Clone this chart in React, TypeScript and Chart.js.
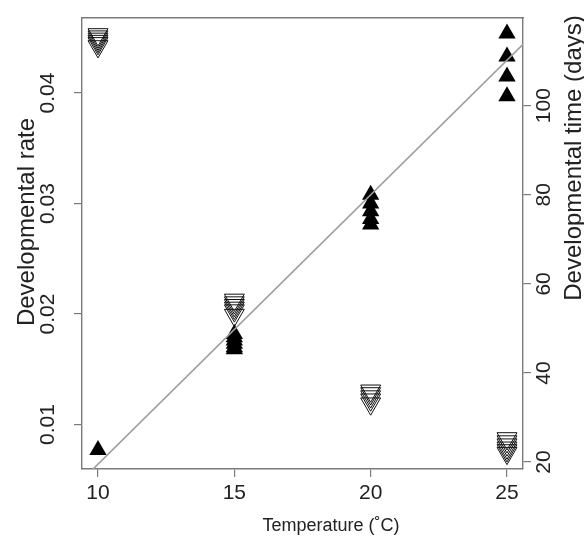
import React, { useEffect, useRef } from "react";
import { Chart, registerables } from "chart.js";

Chart.register(...registerables);

// Developmental rate (filled up-triangles), left axis
const rateTemps = [10, 15, 15, 15, 15, 15, 15, 20, 20, 20, 20, 20, 25, 25, 25, 25];
const rateValues = [
  0.0077,
  0.0182, 0.0179, 0.0176, 0.0173, 0.017, 0.0168,
  0.0308, 0.03, 0.0293, 0.0286, 0.0281,
  0.0454, 0.0433, 0.0415, 0.0397,
];

// Developmental time in days (open down-triangles), right axis
const timeTemps = [
  10, 10, 10, 10, 10, 10,
  15, 15, 15, 15, 15, 15,
  20, 20, 20, 20, 20,
  25, 25, 25, 25, 25, 25,
];
const timeValues = [
  116.0, 115.5, 115.0, 114.5, 114.0, 113.3,
  56.4, 55.8, 55.2, 54.6, 54.0, 53.0,
  36.0, 35.4, 34.7, 34.0, 33.1,
  25.3, 24.6, 23.9, 23.2, 22.6, 22.0,
];

// Fitted regression line of rate on temperature (end points)
const regTemps = [9, 26];
const regRates = [0.00397, 0.04542];

// Axis ticks
const xTicks = [10, 15, 20, 25];
const xTickLabels = ["10", "15", "20", "25"];
const rateTicks = [0.01, 0.02, 0.03, 0.04];
const rateTickLabels = ["0.01", "0.02", "0.03", "0.04"];
const timeTicks = [20, 40, 60, 80, 100];
const timeTickLabels = ["20", "40", "60", "80", "100"];

const xTitle = "Temperature (˚C)";
const leftTitle = "Developmental rate";
const rightTitle = "Developmental time (days)";

const FONT = "'Liberation Sans', Arial, Helvetica, sans-serif";
const TEXT = "#222";
const AXIS = "#7a7a7a";

const titlesPlugin = {
  id: "axisTitles",
  afterDraw(chart: any) {
    const ctx = chart.ctx;
    const draw = (text: string, x: number, y: number, size: number, rot: number) => {
      ctx.save();
      ctx.fillStyle = TEXT;
      ctx.font = `${size}px ${FONT}`;
      ctx.textAlign = "center";
      ctx.textBaseline = "middle";
      ctx.translate(x, y);
      ctx.rotate(rot);
      ctx.fillText(text, 0, 0);
      ctx.restore();
    };
    draw(xTitle, 331, 526, 18, 0);
    draw(leftTitle, 27, 222, 24, -Math.PI / 2);
    draw(rightTitle, 574, 158, 24, -Math.PI / 2);
  },
};

export default function App() {
  const ref = useRef<HTMLCanvasElement | null>(null);

  useEffect(() => {
    if (!ref.current) return;
    const tickFont = { family: FONT, size: 21 };
    const gridCfg = {
      drawOnChartArea: false,
      drawTicks: true,
      tickLength: 8,
      color: AXIS,
      lineWidth: 1.2,
    };
    const borderCfg = { display: true, color: AXIS, width: 1.4 };

    const chart = new Chart(ref.current, {
      type: "scatter",
      data: {
        datasets: [
          {
            type: "line",
            data: regTemps.map((t, i) => ({ x: t, y: regRates[i] })),
            xAxisID: "x",
            yAxisID: "y",
            borderColor: "#9e9e9e",
            borderWidth: 1.6,
            pointRadius: 0,
            showLine: true,
            clip: 0,
          } as any,
          {
            data: timeTemps.map((t, i) => ({ x: t, y: timeValues[i] })),
            xAxisID: "x",
            yAxisID: "y2",
            pointStyle: "triangle",
            rotation: 180,
            pointRadius: 11.5,
            pointBorderWidth: 1,
            borderColor: "#111",
            backgroundColor: "rgba(255,255,255,0)",
            clip: false,
          } as any,
          {
            data: rateTemps.map((t, i) => ({ x: t, y: rateValues[i] })),
            xAxisID: "x",
            yAxisID: "y",
            pointStyle: "triangle",
            pointRadius: 10,
            pointBorderWidth: 0,
            borderColor: "#000",
            backgroundColor: "#000",
            clip: false,
          } as any,
        ],
      },
      options: {
        responsive: false,
        animation: false,
        events: [],
        layout: { padding: 0 },
        plugins: {
          legend: { display: false },
          tooltip: { enabled: false },
        },
        scales: {
          x: {
            type: "linear",
            position: "bottom",
            min: 9.413,
            max: 25.587,
            afterBuildTicks: (s: any) => {
              s.ticks = xTicks.map((v) => ({ value: v }));
            },
            afterFit: (s: any) => {
              s.height = 71;
            },
            ticks: {
              font: tickFont,
              color: TEXT,
              padding: 4,
              maxRotation: 0,
              minRotation: 0,
              callback: (v: any) => xTickLabels[xTicks.indexOf(Number(v))] ?? "",
            },
            grid: gridCfg,
            border: borderCfg,
          },
          x2: {
            type: "linear",
            axis: "x",
            position: "top",
            min: 9.413,
            max: 25.587,
            afterFit: (s: any) => {
              s.height = 13;
            },
            ticks: { display: false },
            grid: { display: false, drawTicks: false },
            border: borderCfg,
          },
          y: {
            type: "linear",
            position: "left",
            min: 0.00597,
            max: 0.04683,
            afterBuildTicks: (s: any) => {
              s.ticks = rateTicks.map((v) => ({ value: v }));
            },
            afterFit: (s: any) => {
              s.width = 82;
            },
            ticks: {
              font: tickFont,
              color: TEXT,
              minRotation: 90,
              maxRotation: 90,
              crossAlign: "center",
              padding: 5,
              callback: (v: any) => {
                const i = rateTicks.findIndex((t) => Math.abs(t - Number(v)) < 1e-9);
                return i >= 0 ? rateTickLabels[i] : "";
              },
            },
            grid: gridCfg,
            border: borderCfg,
          },
          y2: {
            type: "linear",
            axis: "y",
            position: "right",
            min: 18.44,
            max: 119.78,
            afterBuildTicks: (s: any) => {
              s.ticks = timeTicks.map((v) => ({ value: v }));
            },
            afterFit: (s: any) => {
              s.width = 61;
            },
            ticks: {
              font: tickFont,
              color: TEXT,
              minRotation: 90,
              maxRotation: 90,
              crossAlign: "center",
              padding: -4,
              callback: (v: any) => timeTickLabels[timeTicks.indexOf(Number(v))] ?? "",
            },
            grid: gridCfg,
            border: borderCfg,
          },
        },
      } as any,
      plugins: [titlesPlugin],
    });
    return () => chart.destroy();
  }, []);

  return (
    <div style={{ position: "absolute", left: 0, top: 0, width: 584, height: 540, background: "#fff" }}>
      <canvas ref={ref} width={584} height={540} style={{ width: 584, height: 540, display: "block" }} />
    </div>
  );
}
